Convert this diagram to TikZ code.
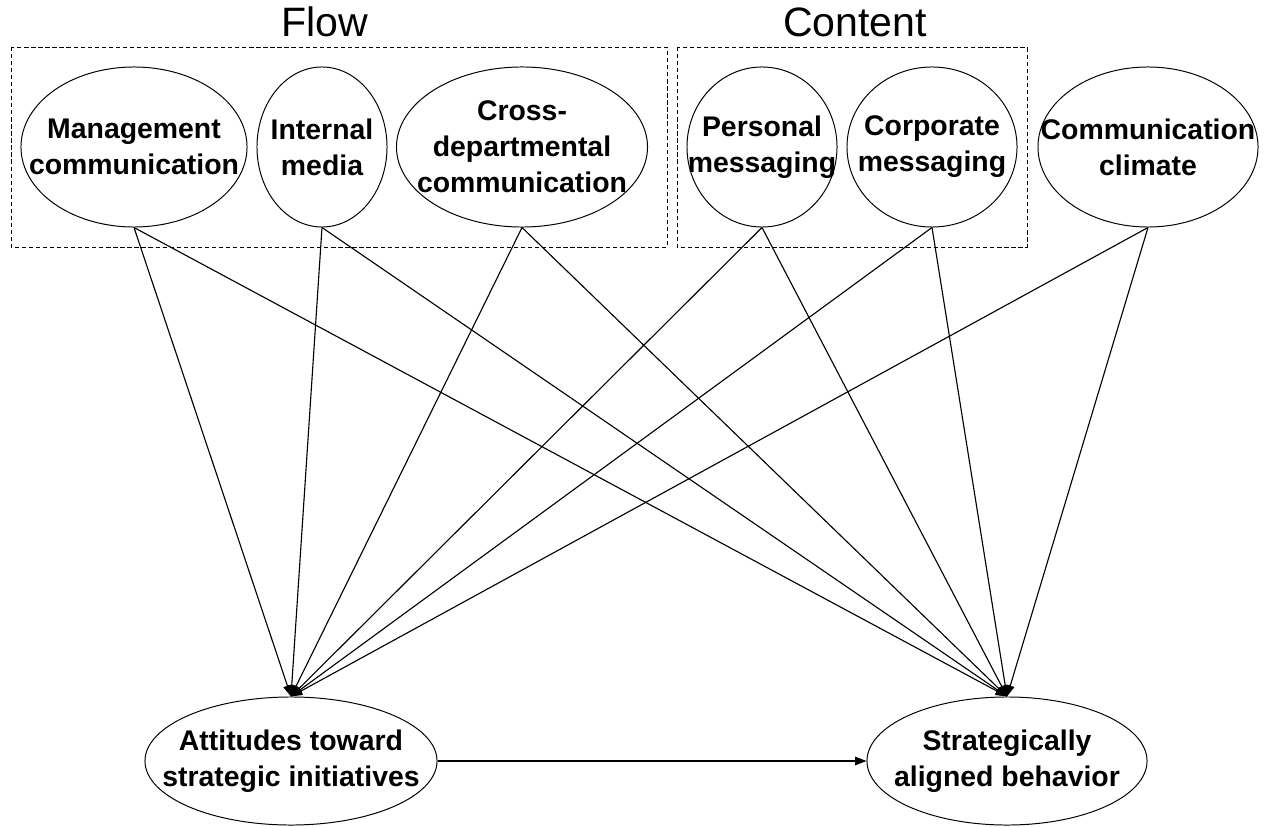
\documentclass[tikz,border=0pt]{standalone}
\usepackage{fontspec}
\setmainfont{Liberation Sans}
\usetikzlibrary{arrows.meta,shapes.geometric,positioning}

\begin{document}
\begin{tikzpicture}[x=0.025cm,y=-0.025cm,
  var/.style={ellipse,draw,line width=0.7pt,inner sep=-3cm,align=center,
    font=\fontsize{20.2}{25.6}\selectfont\bfseries},
  grp/.style={draw,line width=0.6pt,dash pattern=on 3pt off 2pt},
  title/.style={anchor=base,font=\fontsize{29.2}{35}\selectfont}]
\useasboundingbox (0,0) rectangle (1268,827);
\draw[grp] (11,47) rectangle (667,247);
\draw[grp] (677,47) rectangle (1027,247);
\node[title] (FL) at (325,37) {Flow};
\node[title] (CO) at (855,37) {Content};
\node[var,minimum width=5.65cm,minimum height=4cm] (MC) at (134,147) {Management\\communication};
\node[var,minimum width=3.25cm,minimum height=4cm] (IM) at (322,147) {Internal\\media};
\node[var,minimum width=6.275cm,minimum height=4cm] (CD) at (522,147) {Cross-\\departmental\\communication};
\node[var,minimum width=3.75cm,minimum height=4cm] (PM) at (762,147) {Personal\\messaging};
\node[var,minimum width=4.25cm,minimum height=4cm] (CM) at (932,147) {Corporate\\messaging};
\node[var,minimum width=5.5cm,minimum height=4cm] (CL) at (1148,147) {Communication\\climate};
\node[var,minimum width=7.3cm,minimum height=3.2cm] (AT) at (291,761) {Attitudes toward\\strategic initiatives};
\node[var,minimum width=7cm,minimum height=3.2cm] (SB) at (1007,761) {Strategically\\aligned behavior};
\path[-{Triangle[length=8pt,width=6pt]},line width=0.8pt]
(MC.south) edge (AT.north)
(MC.south) edge (SB.north)
(IM.south) edge (AT.north)
(IM.south) edge (SB.north)
(CD.south) edge (AT.north)
(CD.south) edge (SB.north)
(PM.south) edge (AT.north)
(PM.south) edge (SB.north)
(CM.south) edge (AT.north)
(CM.south) edge (SB.north)
(CL.south) edge (AT.north)
(CL.south) edge (SB.north)
(AT) edge (SB);
\end{tikzpicture}
\end{document}
